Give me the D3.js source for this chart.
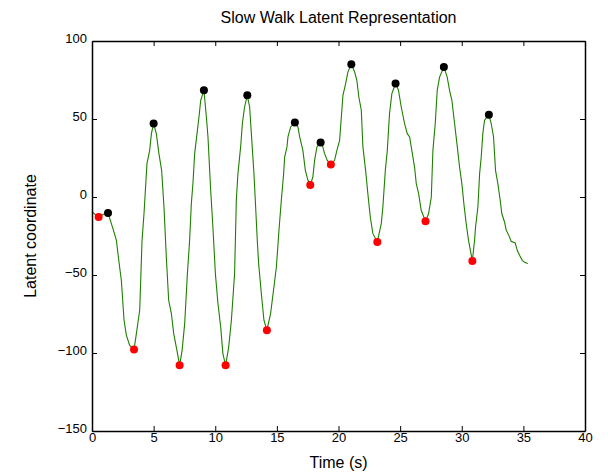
<!DOCTYPE html>
<html>
<head>
<meta charset="utf-8">
<script src="https://cdn.jsdelivr.net/npm/d3@7"></script>
<style>
  html, body { margin: 0; padding: 0; background: #fff; }
  svg { display: block; font-family: "Liberation Sans", Arial, sans-serif; }
</style>
</head>
<body>
<svg id="chart" width="608" height="473"></svg>
<script>
const title = "Slow Walk Latent Representation";
const xLabel = "Time (s)";
const yLabel = "Latent coordinate";
const xTicks = [0, 5, 10, 15, 20, 25, 30, 35, 40];
const yTicks = [-150, -100, -50, 0, 50, 100];

const timeValues = [0, 0.54, 0.95, 1.30, 1.70, 1.98, 2.19, 2.38, 2.60, 2.79, 3.06, 3.41, 3.60, 3.87, 4.06, 4.22, 4.46, 4.68, 4.82, 5.00,
  5.22, 5.43, 5.65, 5.84, 6.03, 6.22, 6.44, 6.63, 6.89, 7.11, 7.31, 7.52, 7.74, 7.92, 8.06, 8.19, 8.33, 8.52, 8.68, 8.82,
  9.08, 9.28, 9.41, 9.63, 9.81, 10.01, 10.22, 10.44, 10.62, 10.84, 11.09, 11.31, 11.57, 11.71, 11.84, 12.06, 12.20, 12.38, 12.60, 12.79,
  12.93, 13.14, 13.25, 13.41, 13.52, 13.74, 13.95, 14.19, 14.49, 14.76, 14.96, 15.17, 15.36, 15.55, 15.63, 15.82, 15.90, 16.12, 16.46, 16.71,
  16.85, 17.11, 17.31, 17.52, 17.71, 17.92, 18.06, 18.25, 18.55, 18.73, 18.87, 19.09, 19.38, 19.68, 19.87, 20.09, 20.23, 20.36, 20.58, 20.76,
  21.04, 21.31, 21.49, 21.65, 21.85, 21.98, 22.20, 22.38, 22.58, 22.79, 23.15, 23.47, 23.60, 23.80, 23.96, 24.14, 24.33, 24.63, 24.87, 25.09,
  25.36, 25.58, 25.77, 25.95, 26.17, 26.31, 26.50, 26.71, 27.06, 27.31, 27.53, 27.66, 27.85, 28.01, 28.20, 28.55, 28.82, 29.01, 29.20, 29.42,
  29.64, 29.82, 30.01, 30.17, 30.36, 30.55, 30.86, 31.04, 31.12, 31.31, 31.45, 31.58, 31.71, 31.85, 32.20, 32.39, 32.58, 32.74, 32.93, 33.12,
  33.25, 33.47, 33.61, 33.82, 34.01, 34.34, 34.50, 34.69, 34.91, 35.10, 35.36];
const latentValues = [-9.6, -12.8, -11.1, -10.3, -20.3, -27.8, -41.7, -53.4, -79.0, -88.7, -95.1, -97.8, -87.6, -72.6, -27.8, -10.6, 21.4, 29.9, 40.6, 47.1,
  40.6, 27.8, 17.1, -6.4, -38.5, -66.2, -74.7, -87.6, -98.3, -107.9, -98.3, -81.2, -49.1, -27.8, -4.2, 8.6, 27.8, 40.6, 51.3, 62.0,
  68.4, 51.3, 38.5, 4.3, -19.2, -49.1, -68.3, -83.3, -100.4, -107.9, -96.2, -79.0, -49.1, -2.1, 15.0, 32.1, 47.1, 57.7, 65.2, 57.7,
  40.6, 15.0, -2.1, -27.8, -42.7, -61.9, -79.0, -85.4, -74.7, -57.7, -44.9, -21.3, -2.1, 15.0, 25.6, 32.1, 38.5, 44.9, 47.7, 44.9,
  38.5, 29.9, 17.1, 10.7, 7.7, 12.8, 23.5, 32.1, 34.9, 32.1, 27.8, 23.5, 20.8, 23.5, 29.9, 36.3, 51.3, 65.2, 72.7, 80.1,
  85.1, 80.1, 74.8, 64.1, 55.6, 32.1, 17.1, 2.2, -12.8, -23.5, -28.8, -17.1, -6.4, 17.1, 29.9, 53.5, 66.3, 72.7, 68.4, 57.7,
  47.1, 40.6, 38.5, 29.9, 19.2, 8.6, 2.2, -8.5, -15.6, -10.6, 0, 29.9, 47.1, 68.4, 76.9, 83.3, 76.9, 68.4, 62.0, 47.1,
  32.1, 19.2, 8.6, -4.2, -17.1, -27.8, -41.0, -27.8, -19.2, -6.4, 15.0, 25.6, 40.6, 49.2, 52.8, 47.1, 38.5, 17.1, 8.6, -2.1,
  -10.6, -16.0, -21.3, -24.6, -28.4, -29.5, -34.2, -37.4, -40.6, -41.9, -42.7];

const minTimes = [0.54, 3.41, 7.11, 10.84, 14.19, 17.71, 19.38, 23.15, 27.06, 30.86];
const minValues = [-12.8, -97.8, -107.9, -107.9, -85.4, 7.7, 20.8, -28.8, -15.6, -41.0];
const maxTimes = [1.30, 5.00, 9.08, 12.60, 16.46, 18.55, 21.04, 24.63, 28.55, 32.20];
const maxValues = [-10.3, 47.1, 68.4, 65.2, 47.7, 34.9, 85.1, 72.7, 83.3, 52.8];

const svg = d3.select("#chart");
const margin = { left: 92, right: 608 - 585, top: 41, bottom: 473 - 431 };
const W = 608, H = 473;

const x = d3.scaleLinear().domain([0, 40]).range([margin.left, W - margin.right]);
const y = d3.scaleLinear().domain([-150, 100]).range([H - margin.bottom, margin.top]);

const line = d3.line().x((d, i) => x(timeValues[i])).y((d, i) => y(latentValues[i]));

svg.append("path")
  .datum(latentValues)
  .attr("d", line)
  .attr("fill", "none")
  .attr("stroke", "#1f7f00")
  .attr("stroke-width", 1.1);

svg.append("g").selectAll("circle")
  .data(minTimes)
  .join("circle")
  .attr("cx", (d) => x(d))
  .attr("cy", (d, i) => y(minValues[i]))
  .attr("r", 4)
  .attr("fill", "#ff0000");

svg.append("g").selectAll("circle")
  .data(maxTimes)
  .join("circle")
  .attr("cx", (d) => x(d))
  .attr("cy", (d, i) => y(maxValues[i]))
  .attr("r", 4)
  .attr("fill", "#000000");

// Axes (ticks pointing inward on all sides)
const tickLen = 5;
const fmt = d3.format("d");
const gx = svg.append("g").attr("transform", `translate(0,${y(-150)})`)
  .call(d3.axisBottom(x).tickValues(xTicks).tickFormat(fmt).tickSizeInner(-tickLen).tickSizeOuter(0).tickPadding(3));
const gxTop = svg.append("g").attr("transform", `translate(0,${y(100)})`)
  .call(d3.axisTop(x).tickValues(xTicks).tickFormat("").tickSizeInner(-tickLen).tickSizeOuter(0));
const gy = svg.append("g").attr("transform", `translate(${x(0)},0)`)
  .call(d3.axisLeft(y).tickValues(yTicks).tickFormat(fmt).tickSizeInner(-tickLen).tickSizeOuter(0).tickPadding(5));
const gyRight = svg.append("g").attr("transform", `translate(${x(40)},0)`)
  .call(d3.axisRight(y).tickValues(yTicks).tickFormat("").tickSizeInner(-tickLen).tickSizeOuter(0));

[gx, gxTop, gy, gyRight].forEach(g => {
  g.select(".domain").attr("stroke", "#000").attr("stroke-width", 1.5);
  g.selectAll(".tick line").attr("stroke", "#000").attr("stroke-width", 1);
  g.selectAll(".tick text").attr("fill", "#000").attr("font-size", 13)
    .attr("font-family", "'Liberation Sans', Arial, sans-serif");
});
gy.selectAll(".tick text").attr("dy", "0.15em");
gx.selectAll(".tick text").attr("dy", "0.6em");
// hide x tick marks drawn past ends: keep as is

svg.append("text")
  .attr("x", (x(0) + x(40)) / 2).attr("y", 23)
  .attr("text-anchor", "middle").attr("font-size", 16).attr("fill", "#000")
  .text(title);

svg.append("text")
  .attr("x", (x(0) + x(40)) / 2).attr("y", 468)
  .attr("text-anchor", "middle").attr("font-size", 16).attr("fill", "#000")
  .text(xLabel);

svg.append("text")
  .attr("transform", `translate(36,${(y(-150) + y(100)) / 2}) rotate(-90)`)
  .attr("text-anchor", "middle").attr("font-size", 16).attr("fill", "#000")
  .text(yLabel);
</script>
</body>
</html>
